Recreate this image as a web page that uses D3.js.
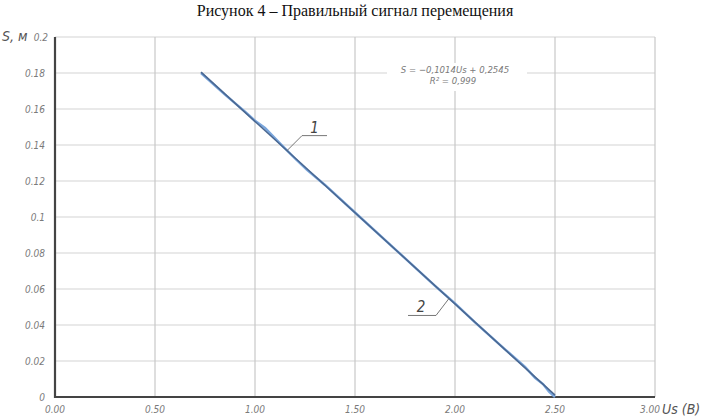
<!DOCTYPE html>
<html>
<head>
<meta charset="utf-8">
<script src="https://cdn.jsdelivr.net/npm/d3@7"></script>
<style>
  body { margin: 0; background: #fff; }
  svg { display: block; }
  .tick-lab { font-family: "DejaVu Sans Condensed", "Liberation Sans Narrow", "DejaVu Sans", sans-serif; font-style: italic; fill: #7a7a7a; font-size: 10px; }
  .ax-title { font-family: "DejaVu Sans Condensed", "DejaVu Sans", sans-serif; font-style: italic; fill: #555; font-size: 14px; }
</style>
</head>
<body>
<div id="chart"></div>
<script>
// x ticks (Us, volts) and y ticks (S, metres)
var xTicks = [0, 0.5, 1.0, 1.5, 2.0, 2.5, 3.0];
var xTickLabels = ['0.00', '0.50', '1.00', '1.50', '2.00', '2.50', '3.00'];
var yTicks = [0, 0.02, 0.04, 0.06, 0.08, 0.1, 0.12, 0.14, 0.16, 0.18, 0.2];
var yTickLabels = ['0', '0.02', '0.04', '0.06', '0.08', '0.1', '0.12', '0.14', '0.16', '0.18', '0.2'];

var measUs = [0.73, 0.85, 0.95, 1.0, 1.05, 1.12, 1.2, 1.26, 1.35, 1.5, 1.7, 1.9, 2.0, 2.1, 2.25, 2.35, 2.4, 2.44, 2.47, 2.5];
var measS  = [0.180, 0.168, 0.1585, 0.1535, 0.1495, 0.1415, 0.1325, 0.1262, 0.1178, 0.1025, 0.0822, 0.0618, 0.0520, 0.0415, 0.0265, 0.0168, 0.0106, 0.0072, 0.0030, 0.0000];

// linear fit (curve 2): S = -0.1014 Us + 0.2545
var fitUs = [0.73, 2.5];
var fitSlope = -0.1014, fitIntercept = 0.2545;

var eqLines = ['S = \u22120,1014Us + 0,2545', 'R\u00b2 = 0,999'];
var title = 'Рисунок 4 \u2013 Правильный сигнал перемещения';

var width = 710, height = 420;
var margin = {top: 37, right: 55, bottom: 23, left: 55};

var svg = d3.select('#chart').append('svg')
  .attr('width', width)
  .attr('height', height);

var x = d3.scaleLinear().domain([0, 3]).range([margin.left, width - margin.right]);
var y = d3.scaleLinear().domain([0, 0.2]).range([height - margin.bottom, margin.top]);

// title
svg.append('text')
  .attr('x', 355).attr('y', 16)
  .attr('text-anchor', 'middle')
  .style('font-family', '"Liberation Serif", "Times New Roman", serif')
  .style('font-size', '16px')
  .attr('fill', '#111')
  .text(title);

// grid
svg.append('g').selectAll('line.h')
  .data(yTicks.slice(1))
  .enter().append('line')
  .attr('x1', x(0)).attr('x2', x(3))
  .attr('y1', function(d) { return y(d); })
  .attr('y2', function(d) { return y(d); })
  .attr('stroke', '#d4d4d4').attr('stroke-width', 1.2);

svg.append('g').selectAll('line.v')
  .data(xTicks.slice(1))
  .enter().append('line')
  .attr('x1', function(d) { return x(d); })
  .attr('x2', function(d) { return x(d); })
  .attr('y1', y(0)).attr('y2', y(0.2))
  .attr('stroke', '#c8c8c8').attr('stroke-width', 1.2);

// equation label, white box hides the grid under it
var eq = svg.append('g').attr('transform', 'translate(' + x(2.0) + ',' + y(0.18) + ')');
eq.append('rect')
  .attr('x', -68).attr('y', -10).attr('width', 140).attr('height', 28)
  .attr('fill', '#fff');
eq.selectAll('text')
  .data(eqLines)
  .enter().append('text')
  .attr('class', 'tick-lab')
  .attr('x', function(d, i) { return i == 0 ? 0 : -2; })
  .attr('y', function(d, i) { return i * 11; })
  .attr('text-anchor', 'middle')
  .style('font-size', '9.5px')
  .text(function(d) { return d; });

// axes lines
svg.append('line')
  .attr('x1', x(0)).attr('x2', x(0))
  .attr('y1', y(0) + 1).attr('y2', y(0.2))
  .attr('stroke', '#444').attr('stroke-width', 2.2);
svg.append('line')
  .attr('x1', x(0) - 1).attr('x2', x(3))
  .attr('y1', y(0)).attr('y2', y(0))
  .attr('stroke', '#444').attr('stroke-width', 2.2);

// tick labels
svg.append('g').selectAll('text')
  .data(yTicks)
  .enter().append('text')
  .attr('class', 'tick-lab')
  .attr('x', function(d, i) { return i == yTicks.length - 1 ? x(0) - 7 : x(0) - 10; })
  .attr('y', function(d) { return y(d) + 4; })
  .attr('text-anchor', 'end')
  .text(function(d, i) { return yTickLabels[i]; });

svg.append('g').selectAll('text')
  .data(xTicks)
  .enter().append('text')
  .attr('class', 'tick-lab')
  .attr('x', function(d) { return x(d); })
  .attr('y', y(0) + 16)
  .attr('text-anchor', function(d, i) { return i == xTicks.length - 1 ? 'end' : 'middle'; })
  .attr('dx', function(d, i) { return i == xTicks.length - 1 ? 5 : 0; })
  .text(function(d, i) { return xTickLabels[i]; });

// axis titles
svg.append('text')
  .attr('class', 'ax-title')
  .attr('x', 2).attr('y', y(0.2) + 4)
  .text('S, м');
svg.append('text')
  .attr('class', 'ax-title')
  .attr('x', x(3) + 7).attr('y', y(0) + 17)
  .text('Us (B)');

// curves
var line = d3.line()
  .x(function(d) { return x(d[0]); })
  .y(function(d) { return y(d[1]); });

var measData = measUs.map(function(u, i) { return [u, measS[i]]; });
var fitData = fitUs.map(function(u) { return [u, fitSlope * u + fitIntercept]; });

svg.append('path')
  .datum(measData)
  .attr('d', line)
  .attr('fill', 'none')
  .attr('stroke', '#7aa6dc')
  .attr('stroke-width', 2.4);

svg.append('path')
  .datum(fitData)
  .attr('d', line)
  .attr('fill', 'none')
  .attr('stroke', '#4a6892')
  .attr('stroke-width', 1.6);

// leader labels "1" and "2"
function leader(u, s, dx, dy, len, label, side, tx) {
  var px = x(u), py = y(s);
  var ex = px + dx, ey = py + dy;
  var g = svg.append('g');
  g.append('polyline')
    .attr('points', side > 0
      ? [px, py, ex, ey, ex + len, ey].join(' ')
      : [px, py, ex, ey, ex - len, ey].join(' '))
    .attr('fill', 'none')
    .attr('stroke', '#666')
    .attr('stroke-width', 0.9);
  g.append('text')
    .attr('class', 'ax-title')
    .style('fill', '#444')
    .style('font-size', '15px')
    .attr('x', side > 0 ? ex + len / 2 + tx : ex - len / 2 + tx)
    .attr('y', ey - 3)
    .attr('text-anchor', 'middle')
    .text(label);
}
leader(1.16, fitSlope * 1.16 + fitIntercept, 15, -15, 25, '1', 1, 0);
leader(1.97, fitSlope * 1.97 + fitIntercept, -13, 17, 28, '2', -1, -1);
</script>
</body>
</html>
